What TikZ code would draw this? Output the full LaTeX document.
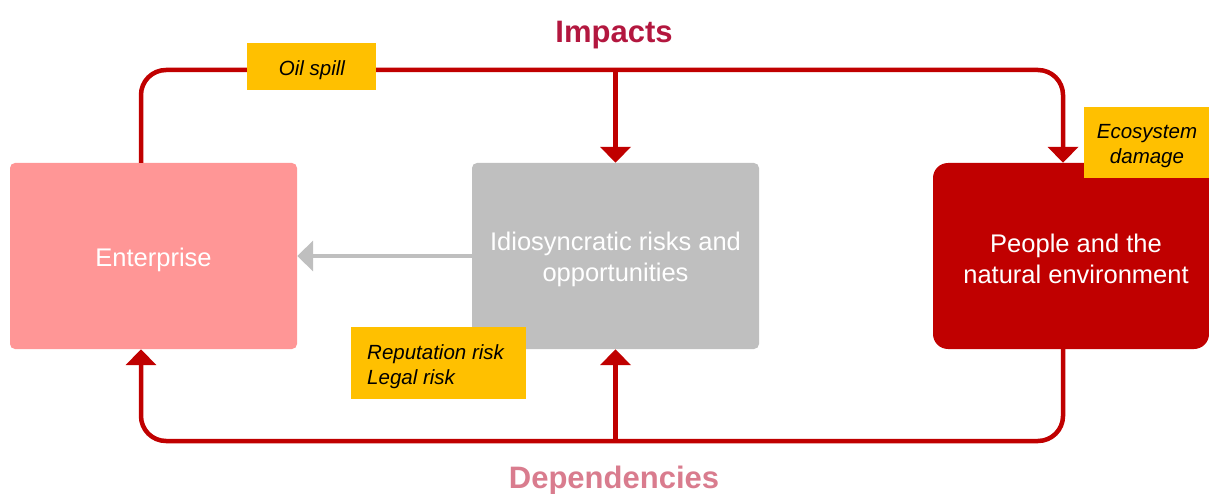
\documentclass[tikz,border=0pt]{standalone}
\usepackage{fontspec}
\setmainfont{Liberation Sans}
\usetikzlibrary{arrows.meta}
\definecolor{cred}{HTML}{C00000}
\definecolor{cpink}{HTML}{FF9696}
\definecolor{cgray}{HTML}{BFBFBF}
\definecolor{cyellow}{HTML}{FFC000}
\definecolor{cimp}{HTML}{B3173F}
\definecolor{cdep}{HTML}{D97C8E}
\tikzset{
  mainbox/.style={minimum width=287pt, minimum height=186pt, inner sep=0pt},
  maintext/.style={text=white, align=center, font=\fontsize{25.5}{31}\selectfont},
  tag/.style={fill=cyellow, inner sep=0pt},
  tagtext/.style={inner sep=0pt, font=\fontsize{20.5}{25}\selectfont\itshape},
  flow/.style={draw=cred, line width=4.5pt, rounded corners=25pt},
  tip/.style={-{Triangle[width=30pt,length=16pt]}},
  title/.style={font=\fontsize{31}{34}\selectfont\bfseries, inner sep=0pt}
}
\begin{document}
\begin{tikzpicture}[x=1pt,y=-1pt]
\useasboundingbox (0,0) rectangle (1209,494);
% boxes
\node[mainbox, fill=cpink, rounded corners=5pt] (ent) at (153.5,256) {};
\node[maintext] (enttxt) at (153.5,260) {Enterprise};
\node[mainbox, fill=cgray, rounded corners=5pt] (idio) at (615.5,256) {};
\node[maintext] (idiotxt) at (615.5,259) {Idiosyncratic risks and\\opportunities};
\node[mainbox, fill=cred, rounded corners=15pt, minimum width=276pt] (ppl) at (1071,256) {};
\node[maintext] (ppltxt) at (1076,259) {People and the\\natural environment};
% coordinates
\coordinate (tl) at (141,70);
\coordinate (tm) at (615.5,70);
\coordinate (tr) at (1063,70);
\coordinate (bl) at (141,441);
\coordinate (bm) at (615.5,441);
\coordinate (br) at (1063,441);
% top loop
\draw[flow, tip] (ent.north -| tl) -- (tl) -- (tr) -- (ppl.north -| tr);
\draw[flow, tip, rounded corners=0pt] (tm) -- (idio.north);
% bottom loop
\draw[flow, tip] (ppl.south -| br) -- (br) -- (bl) -- (ent.south -| bl);
\draw[flow, tip, rounded corners=0pt] (bm) -- (idio.south);
% gray arrow
\draw[draw=cgray, line width=4.5pt, tip] (idio.west) -- (ent.east);
% tags
\node[tag, minimum width=129pt, minimum height=47pt] (oil) at (311.5,66.5) {};
\node[tagtext] (oiltxt) at (312,70.5) {Oil spill};
\node[tag, minimum width=125pt, minimum height=71pt] (eco) at (1146.5,142.5) {};
\node[tagtext, align=center] (ecotxt) at (1147,146.5) {Ecosystem\\damage};
\node[tag, minimum width=175pt, minimum height=72pt] (rep) at (438.5,363) {};
\node[tagtext, align=left, anchor=west] (reptxt) at (367,367) {Reputation risk\\Legal risk};
% titles
\node[title, text=cimp] (imp) at (614,35) {Impacts};
\node[title, text=cdep] (dep) at (614,480) {Dependencies};
\end{tikzpicture}
\end{document}
